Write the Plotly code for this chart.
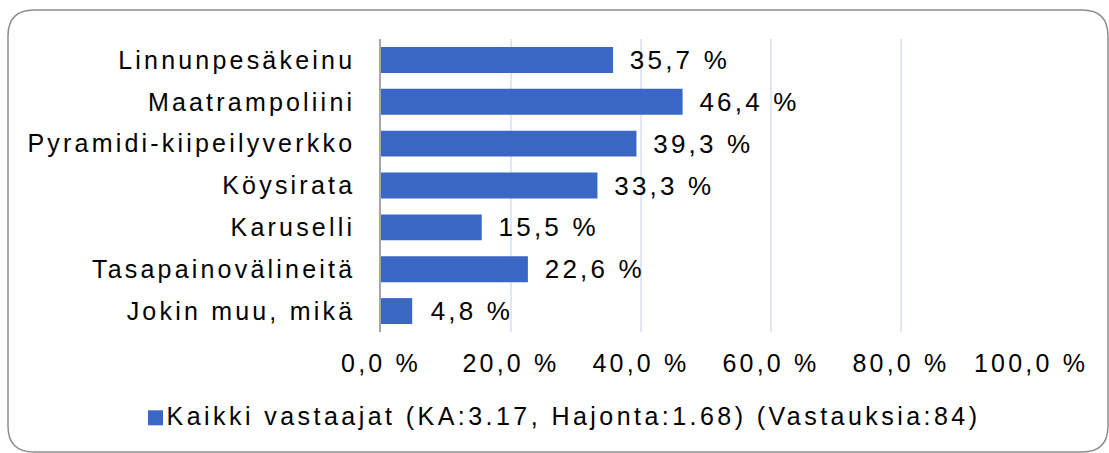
import plotly.graph_objects as go

categories = ["Linnunpesäkeinu", "Maatrampoliini", "Pyramidi-kiipeilyverkko",
              "Köysirata", "Karuselli", "Tasapainovälineitä", "Jokin muu, mikä"]
values = [35.7, 46.4, 39.3, 33.3, 15.5, 22.6, 4.8]
series_name = "Kaikki vastaajat (KA:3.17, Hajonta:1.68) (Vastauksia:84)"
x_ticks = [0, 20, 40, 60, 80, 100]
x_ticktext = [f"{v:.1f} %".replace(".", ",") for v in x_ticks]

W, H = 1109, 453
ML, MR, MT, MB = 381, 78, 39, 121
PW, PH = W - ML - MR, H - MT - MB

FONT = "Liberation Sans, Arial, sans-serif"
FS = 25
BAR = "#3A66C4"

fig = go.Figure()
fig.add_trace(go.Bar(
    y=categories, x=values, orientation="h",
    marker=dict(color=BAR, line=dict(width=0)),
    name=series_name,
    texttemplate="\u2002\u00a0%{x:.1f} %", textposition="outside",
    constraintext="none",
    textfont=dict(family=FONT, size=26, color="#000"),
    cliponaxis=False,
))


def px2paper(px, py):
    return (px - ML) / PW, (H - MB - py) / PH


x0, y0, x1, y1, r = 8, 10, 1108, 452, 26
def P(px, py):
    a, b = px2paper(px, py)
    return f"{a:.5f},{b:.5f}"
path = (f"M {P(x0 + r, y0)} L {P(x1 - r, y0)} Q {P(x1, y0)} {P(x1, y0 + r)} "
        f"L {P(x1, y1 - r)} Q {P(x1, y1)} {P(x1 - r, y1)} "
        f"L {P(x0 + r, y1)} Q {P(x0, y1)} {P(x0, y1 - r)} "
        f"L {P(x0, y0 + r)} Q {P(x0, y0)} {P(x0 + r, y0)} Z")
fig.add_shape(type="path", path=path, xref="paper", yref="paper",
              line=dict(color="#8C8C8C", width=1.5), layer="below")

fig.update_layout(
    width=W, height=H,
    margin=dict(l=ML, r=MR, t=MT, b=MB),
    paper_bgcolor="white", plot_bgcolor="white",
    separators=", ",
    bargap=0.38,
    font=dict(family=FONT, size=FS, color="#000"),
    showlegend=True,
    legend=dict(orientation="h", x=-0.3915, xanchor="left", y=-0.205, yanchor="top",
                font=dict(family=FONT, size=FS, color="#000"),
                itemwidth=30),
    xaxis=dict(range=[0, 100], tickvals=x_ticks, ticktext=x_ticktext,
               showgrid=True, gridcolor="#E1E7F2", gridwidth=1.5,
               zeroline=False, showline=False, ticks="",
               ticklabelstandoff=14,
               tickfont=dict(family=FONT, size=FS, color="#000")),
    yaxis=dict(autorange="reversed", showline=True, linecolor="#A6A6A6", linewidth=1.5,
               ticks="", ticklabelstandoff=19, showgrid=False,
               tickfont=dict(family=FONT, size=FS, color="#000")),
)

post = """
var s=document.createElement('style');
s.textContent='body{margin:0;overflow:hidden;} .main-svg text{letter-spacing:3.2px;} '
 + '.legend text{letter-spacing:3.45px;} .legend *{clip-path:none !important;} '
 + '.legend .legendpoints path{transform:translate(29px,3px) scale(1.25);}';
document.head.appendChild(s);
"""
fig.write_html("out.html", post_script=post, config={"displayModeBar": False})
